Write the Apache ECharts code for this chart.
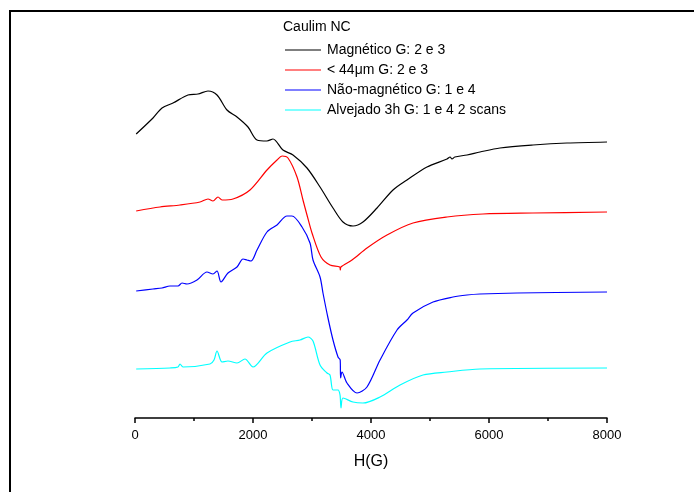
<!DOCTYPE html>
<html>
<head>
<meta charset="utf-8">
<script src="https://cdn.jsdelivr.net/npm/echarts@6/dist/echarts.min.js"></script>
<style>
html, body { margin: 0; padding: 0; background: #fff; }
#chart { width: 694px; height: 492px; }
</style>
</head>
<body>
<div id="chart"></div>
<script>
// 讀圖估計的資料 (H 單位 G, 強度為任意單位, 已含位移)
var magneticoH = [20, 305, 458, 644, 898, 1068, 1237, 1390, 1559, 1729, 1915, 2068, 2237, 2339, 2508, 2678, 2915, 3136, 3356, 3525, 3695, 3864, 4102, 4373, 4610, 4949, 5288, 5340, 5373, 5420, 5627, 5847, 6186, 6746, 7322, 8000];
var magneticoY = [284, 300, 310, 315, 323, 324, 327, 323, 308, 301, 291, 278, 277, 279, 268, 263, 250, 231, 210, 196, 192, 196, 210, 228, 238, 251, 259, 261, 259, 261, 263, 266, 270, 273, 275, 276];

var menor44H = [20, 424, 763, 1102, 1237, 1322, 1407, 1475, 1661, 1949, 2237, 2407, 2492, 2593, 2746, 2847, 2915, 3000, 3153, 3305, 3470, 3480, 3490, 3678, 3932, 4271, 4712, 5288, 5898, 6746, 8000];
var menor44Y = [207, 211, 213, 216, 219, 217, 221, 218, 219, 228, 248, 258, 262, 260, 241, 218, 203, 185, 161, 153, 151, 148, 151, 158, 170, 183, 195, 201, 204, 205, 206];

var naoMagH = [20, 305, 458, 593, 729, 797, 881, 1051, 1220, 1322, 1390, 1458, 1576, 1729, 1831, 1898, 1966, 2068, 2237, 2407, 2576, 2661, 2831, 2966, 3017, 3136, 3186, 3271, 3356, 3441, 3478, 3485, 3508, 3593, 3763, 3932, 4153, 4441, 4610, 4712, 5051, 5390, 5627, 5847, 6475, 8000];
var naoMagY = [127, 129, 130, 132, 132, 135, 134, 138, 146, 144, 147, 136, 145, 151, 159, 158, 157, 168, 186, 193, 202, 202, 191, 175, 158, 141, 125, 100, 78, 61, 58, 40, 46, 35, 25, 31, 58, 88, 98, 105, 116, 121, 123, 124, 125, 126];

var alvejadoH = [20, 593, 729, 763, 814, 1271, 1339, 1390, 1475, 1576, 1729, 1864, 2000, 2237, 2627, 2797, 2932, 3017, 3136, 3254, 3305, 3356, 3441, 3475, 3492, 3525, 3695, 3864, 4153, 4492, 4881, 5288, 5847, 8000];
var alvejadoY = [49, 50, 51, 54, 51, 54, 58, 67, 56, 57, 55, 59, 51, 65, 76, 78, 81, 77, 53, 45, 43, 28, 28, 23, 10, 20, 16, 15, 21, 33, 43, 46, 49, 50];

var seriesNames = ['Magnético G: 2 e 3', '< 44\u03bcm G: 2 e 3', 'Não-magnético G: 1 e 4', 'Alvejado 3h G: 1 e 4 2 scans'];
var seriesColors = ['#000000', '#ff0000', '#0000ff', '#00ffff'];
var xTicks = [0, 2000, 4000, 6000, 8000];

var chart = echarts.init(document.getElementById('chart'));

// 組合成 [x, y] 點
function pairUp(xs, ys) {
    var out = [];
    for (var i = 0; i < xs.length; i++) {
        out.push([xs[i], ys[i]]);
    }
    return out;
}

var allData = [
    pairUp(magneticoH, magneticoY),
    pairUp(menor44H, menor44Y),
    pairUp(naoMagH, naoMagY),
    pairUp(alvejadoH, alvejadoY)
];

var lines = [];
for (var i = 0; i < seriesNames.length; i++) {
    lines.push({
        name: seriesNames[i],
        type: 'line',
        symbol: 'none',
        smooth: 0.3,
        lineStyle: { color: seriesColors[i], width: 1.2 },
        itemStyle: { color: seriesColors[i] },
        data: allData[i]
    });
}

var option = {
    backgroundColor: '#fff',
    animation: false,
    textStyle: { fontFamily: 'Liberation Sans, Arial, sans-serif' },
    title: {
        text: 'Caulim NC',
        left: 283,
        top: 20,
        padding: 0,
        textStyle: { fontSize: 14, fontWeight: 'normal', color: '#000', fontFamily: 'Liberation Sans' }
    },
    legend: {
        orient: 'vertical',
        left: 285,
        top: 42,
        padding: 0,
        icon: 'rect',
        itemWidth: 36,
        itemHeight: 1.2,
        itemGap: 4,
        textStyle: { fontSize: 14, color: '#000', fontFamily: 'Liberation Sans', lineHeight: 16, padding: [0, 0, 0, 1] },
        data: seriesNames
    },
    grid: { left: 135, right: 87, top: 18, bottom: 74, containLabel: false },
    xAxis: {
        type: 'value',
        min: 0,
        max: 8000,
        interval: 2000,
        name: 'H(G)',
        nameLocation: 'middle',
        nameGap: 36,
        nameTextStyle: { fontSize: 16, color: '#000', fontFamily: 'Liberation Sans' },
        axisLine: { lineStyle: { color: '#000', width: 1.5 } },
        axisTick: { show: true, length: 5, lineStyle: { color: '#000', width: 1.5 } },
        minorTick: { show: true, splitNumber: 2, length: 3, lineStyle: { color: '#000', width: 1.5 } },
        axisLabel: {
            fontSize: 13, color: '#000', margin: 11,
            formatter: function (v) { return xTicks.indexOf(v) >= 0 ? String(v) : ''; }
        },
        splitLine: { show: false }
    },
    yAxis: {
        type: 'value',
        min: 0,
        max: 400,
        show: false
    },
    graphic: [
        { type: 'line', shape: { x1: 9, y1: 11, x2: 694, y2: 11 }, style: { stroke: '#000', lineWidth: 2 } },
        { type: 'line', shape: { x1: 10, y1: 10, x2: 10, y2: 492 }, style: { stroke: '#000', lineWidth: 2 } }
    ],
    series: lines
};
chart.setOption(option);
</script>
</body>
</html>
